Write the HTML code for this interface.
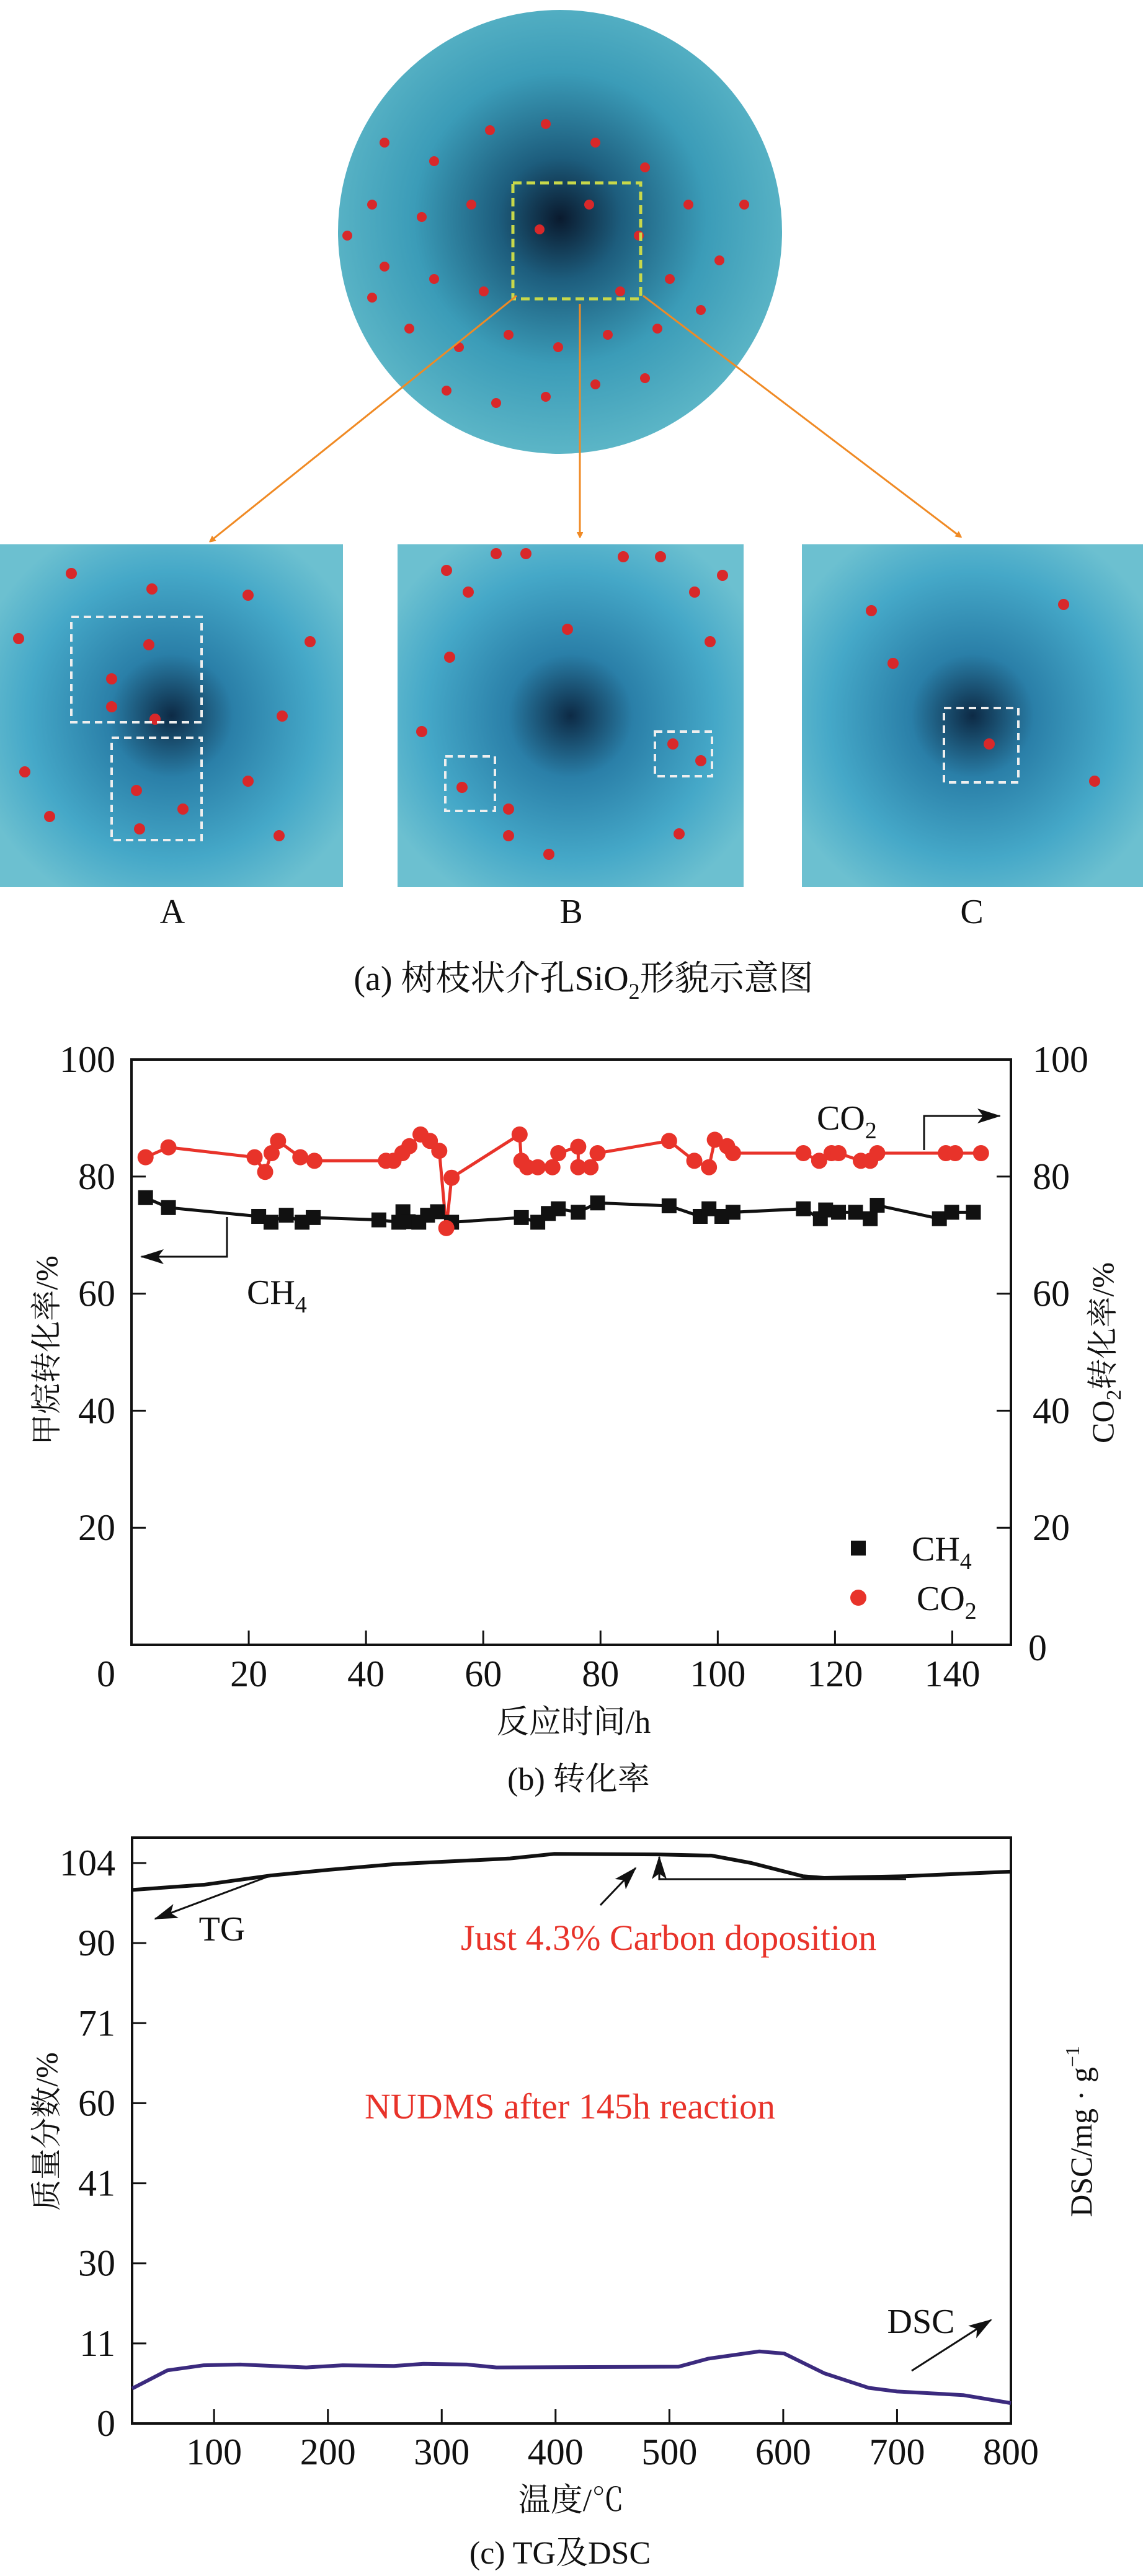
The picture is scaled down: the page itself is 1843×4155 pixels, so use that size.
<!DOCTYPE html>
<html><head><meta charset="utf-8">
<style>
html,body{margin:0;padding:0;background:#fff;}
svg{display:block;}
text{font-family:"Liberation Serif","Noto Serif CJK SC",serif;fill:#111;}
</style></head>
<body>
<svg id="fig" width="1843" height="4155" viewBox="0 0 1843 4155" xmlns="http://www.w3.org/2000/svg">
<defs>
<radialGradient id="sph" cx="0.5" cy="0.47" r="0.55">
<stop offset="0" stop-color="#0a1a2e"/><stop offset="0.25" stop-color="#1d5d7d"/><stop offset="0.6" stop-color="#3b9cb8"/><stop offset="1" stop-color="#5fb8c8"/>
</radialGradient>
<radialGradient id="pan" cx="0.5" cy="0.5" r="0.6">
<stop offset="0" stop-color="#0d2a45"/><stop offset="0.3" stop-color="#2a7fa8"/><stop offset="0.7" stop-color="#45a8c8"/><stop offset="1" stop-color="#6cc0d0"/>
</radialGradient>
<marker id="arrO" markerWidth="10" markerHeight="10" refX="8" refY="5" orient="auto" markerUnits="userSpaceOnUse"><path d="M0,0 L10,5 L0,10 L3,5 z" fill="#f08a24" transform="scale(2.2) translate(-5,-2.8)"/></marker>
<marker id="arrK" markerWidth="40" markerHeight="30" refX="36" refY="15" orient="auto" markerUnits="userSpaceOnUse"><path d="M0,3 L38,15 L0,27 L9,15 z" fill="#111"/></marker>
</defs>

<!-- (a) illustration -->
<g>
<circle cx="903" cy="374" r="358" fill="url(#sph)"/>
<g id="sphereDots"></g>
<rect x="827" y="295" width="206" height="187" fill="none" stroke="#c8d84a" stroke-width="5" stroke-dasharray="14,8"/>
<line x1="833" y1="477" x2="339" y2="873" stroke="#f08a24" stroke-width="3" marker-end="url(#arrO)"/>
<line x1="935" y1="490" x2="935" y2="866" stroke="#f08a24" stroke-width="3" marker-end="url(#arrO)"/>
<line x1="1037" y1="477" x2="1549" y2="866" stroke="#f08a24" stroke-width="3" marker-end="url(#arrO)"/>
<rect x="0" y="878" width="553" height="553" fill="url(#pan)"/>
<rect x="641" y="878" width="558" height="553" fill="url(#pan)"/>
<rect x="1293" y="878" width="550" height="553" fill="url(#pan)"/>
<g id="panelDots"></g>
<rect x="115" y="995" width="210" height="170" fill="none" stroke="#eee" stroke-width="4" stroke-dasharray="12,8"/>
<rect x="180" y="1190" width="145" height="165" fill="none" stroke="#eee" stroke-width="4" stroke-dasharray="12,8"/>
<rect x="718" y="1220" width="80" height="88" fill="none" stroke="#eee" stroke-width="4" stroke-dasharray="12,8"/>
<rect x="1056" y="1180" width="92" height="72" fill="none" stroke="#eee" stroke-width="4" stroke-dasharray="12,8"/>
<rect x="1522" y="1142" width="120" height="120" fill="none" stroke="#eee" stroke-width="4" stroke-dasharray="12,8"/>
<text x="278" y="1489" font-size="56" text-anchor="middle">A</text>
<text x="921" y="1489" font-size="56" text-anchor="middle">B</text>
<text x="1567" y="1489" font-size="56" text-anchor="middle">C</text>
<text x="941" y="1597" font-size="56" text-anchor="middle">(a)  树枝状介孔SiO<tspan font-size="36" dy="14">2</tspan><tspan dy="-14">形貌示意图</tspan></text>
</g>

<!-- (b) chart -->
<g id="chartB">
<rect x="212" y="1709" width="1418" height="944" fill="none" stroke="#111" stroke-width="4"/>
<text transform="translate(92,2178) rotate(-90)" font-size="50" text-anchor="middle">甲烷转化率/%</text>
<text transform="translate(1795,2182) rotate(-90)" font-size="50" text-anchor="middle">CO<tspan font-size="34" dy="12">2</tspan><tspan dy="-12">转化率/%</tspan></text>
<text x="925" y="2795" font-size="52" text-anchor="middle">反应时间/h</text>
<text x="933" y="2887" font-size="52" text-anchor="middle">(b) 转化率</text>
<text x="1317" y="1822" font-size="56">CO<tspan font-size="38" dy="14">2</tspan></text>
<polyline points="1490,1855 1490,1800 1612,1800" fill="none" stroke="#111" stroke-width="3" marker-end="url(#arrK)"/>
<polyline points="366,1963 366,2027 228,2027" fill="none" stroke="#111" stroke-width="3" marker-end="url(#arrK)"/>
<text x="398" y="2103" font-size="56">CH<tspan font-size="38" dy="14">4</tspan></text>
<rect x="1372" y="2485" width="24" height="24" fill="#111"/>
<text x="1470" y="2517" font-size="56">CH<tspan font-size="38" dy="14">4</tspan></text>
<circle cx="1384" cy="2577" r="13" fill="#e8332a"/>
<text x="1478" y="2597" font-size="56">CO<tspan font-size="38" dy="14">2</tspan></text>
</g>

<!-- (c) chart -->
<g id="chartC">
<rect x="213" y="2964" width="1417" height="945" fill="none" stroke="#111" stroke-width="4"/>
<text transform="translate(92,3438) rotate(-90)" font-size="50" text-anchor="middle">质量分数/%</text>
<text transform="translate(1760,3438) rotate(-90)" font-size="50" text-anchor="middle">DSC/mg · g<tspan font-size="32" dy="-20">−1</tspan></text>
<text x="921" y="4050" font-size="52" text-anchor="middle">温度/℃</text>
<text x="903" y="4135" font-size="52" text-anchor="middle">(c) TG及DSC</text>
<line x1="437" y1="3025" x2="250" y2="3095" stroke="#111" stroke-width="3" marker-end="url(#arrK)"/>
<text x="358" y="3130" font-size="56" text-anchor="middle">TG</text>
<polyline points="1461,3031 1063,3031 1063,2995" fill="none" stroke="#111" stroke-width="3" marker-end="url(#arrK)"/>
<line x1="968" y1="3073" x2="1025" y2="3013" stroke="#111" stroke-width="3" marker-end="url(#arrK)"/>
<text x="1078" y="3145" font-size="58" text-anchor="middle" style="fill:#e8332a">Just 4.3% Carbon doposition</text>
<text x="919" y="3417" font-size="58" text-anchor="middle" style="fill:#e8332a">NUDMS after 145h reaction</text>
<text x="1485" y="3763" font-size="56" text-anchor="middle">DSC</text>
<line x1="1470" y1="3824" x2="1598" y2="3742" stroke="#111" stroke-width="3" marker-end="url(#arrK)"/>
</g>
</svg>
<script>
// ---- chart (b) data ----
const timeCH4 = [2.4,6.3,21.7,23.8,26.4,29.1,31.0,42.2,45.6,46.3,47.2,49.0,50.5,52.2,54.6,66.5,69.3,71.1,72.8,76.2,79.5,91.7,97.0,98.5,100.7,102.6,114.6,117.5,118.4,120.6,123.5,126.0,127.2,137.8,139.9,143.6];
const valCH4 = [76.4,74.7,73.2,72.2,73.4,72.2,73.0,72.6,72.2,74.0,72.3,72.2,73.4,74.0,72.2,73.0,72.2,73.7,74.5,73.9,75.5,75.0,73.2,74.5,73.2,73.9,74.5,72.8,74.3,73.9,73.9,72.8,75.1,72.8,73.9,73.9];
const timeCO2 = [2.4,6.3,21.0,22.8,23.9,25.0,28.8,31.2,43.4,44.7,46.2,47.4,49.3,50.9,52.5,53.7,54.6,66.2,66.5,67.5,69.3,71.8,72.8,76.2,76.2,78.3,79.5,91.7,96.0,98.5,99.5,101.6,102.6,114.6,117.3,119.4,120.6,124.4,126.0,127.2,138.9,140.5,144.9];
const valCO2 = [83.3,85.0,83.3,80.8,84.0,86.1,83.3,82.7,82.7,82.7,84.0,85.2,87.2,86.1,84.4,71.2,79.8,87.2,82.7,81.6,81.6,81.6,84.0,85.1,81.6,81.6,84.0,86.1,82.7,81.6,86.3,85.2,84.0,84.0,82.7,84.0,84.0,82.7,82.7,84.0,84.0,84.0,84.0];
const xTicksB = [0,20,40,60,80,100,120,140];
const yTicksB = [20,40,60,80,100];

// ---- chart (c) data ----
const tgTemp = [28,91,149,200,258,360,399,489,537,572,617,636,707,800];
const tgVal = [99.3,100.2,101.8,102.8,103.8,104.8,105.6,105.5,105.3,104.0,101.7,101.4,101.7,102.5];
const dscTemp = [28,59,91,123,181,213,258,284,322,348,508,534,579,601,636,675,700,758,800];
const dscVal = [4.8,7.3,8.0,8.1,7.7,8.0,7.9,8.2,8.1,7.7,7.8,8.9,9.9,9.6,6.9,4.9,4.4,3.9,2.8];
const xTicksC = [100,200,300,400,500,600,700,800];
const yTicksC = [0,11,30,41,60,71,90,104];

const NS = 'http://www.w3.org/2000/svg';
function mk(tag, attrs, parent){ const e=document.createElementNS(NS,tag); for(const k in attrs) e.setAttribute(k,attrs[k]); parent.appendChild(e); return e; }

// axis functions b
const xB = t => 212 + t*(1418/150);
const yB = v => 2653 - v*(944/100);
const gB = document.getElementById('chartB');
xTicksB.forEach(t=>{
  if(t>0){ const tk=mk('line',{x1:xB(t),y1:2653,x2:xB(t),y2:2630,stroke:'#111','stroke-width':3},gB);
    }
  const lb=mk('text',{x:t===0?171:xB(t),y:2720,'font-size':60,'text-anchor':'middle'},gB);
  lb.textContent=t;
  
  
});
yTicksB.forEach(v=>{
  if(v<100){
    const a=mk('line',{x1:212,y1:yB(v),x2:235,y2:yB(v),stroke:'#111','stroke-width':3},gB);
     
    const b=mk('line',{x1:1630,y1:yB(v),x2:1607,y2:yB(v),stroke:'#111','stroke-width':3},gB);
     
  }
  const l=mk('text',{x:186,y:yB(v)+20,'font-size':60,'text-anchor':'end'},gB);
  l.textContent=v;
  
  
  const r=mk('text',{x:1665,y:yB(v)+20,'font-size':60},gB);
  r.textContent=v;
  
  
});
const r0=mk('text',{x:1673,y:2678,'font-size':60,'text-anchor':'middle'},gB);
r0.textContent='0';



const lineCH4=mk('polyline',{points:timeCH4.map((t,i)=>xB(t)+','+yB(valCH4[i])).join(' '),fill:'none',stroke:'#111','stroke-width':5},gB);


const lineCO2=mk('polyline',{points:timeCO2.map((t,i)=>xB(t)+','+yB(valCO2[i])).join(' '),fill:'none',stroke:'#e8332a','stroke-width':5},gB);


timeCH4.forEach((t,i)=>{
  const s=mk('rect',{x:xB(t)-12,y:yB(valCH4[i])-12,width:24,height:24,fill:'#111'},gB);
  
  
});
timeCO2.forEach((t,i)=>{
  const c=mk('circle',{cx:xB(t),cy:yB(valCO2[i]),r:13,fill:'#e8332a'},gB);
  
  
});

// axis functions c
const xC = T => 213 + (T-28)*(1417/772);
const tickStep = 904/7;
function yC(v){
  for(let i=0;i<yTicksC.length-1;i++){
    const a=yTicksC[i], b=yTicksC[i+1];
    if(v<=b || i===yTicksC.length-2){ return 3909 - (i + (v-a)/(b-a))*tickStep; }
  }
}
const gC = document.getElementById('chartC');
xTicksC.forEach(T=>{
  if(T<800){ const tk=mk('line',{x1:xC(T),y1:3909,x2:xC(T),y2:3886,stroke:'#111','stroke-width':3},gC);
    }
  const lb=mk('text',{x:xC(T),y:3975,'font-size':60,'text-anchor':'middle'},gC);
  lb.textContent=T;
  
  
});
yTicksC.forEach(v=>{
  if(v>0){ const tk=mk('line',{x1:213,y1:yC(v),x2:236,y2:yC(v),stroke:'#111','stroke-width':3},gC);
    }
  const lb=mk('text',{x:186,y:yC(v)+20,'font-size':60,'text-anchor':'end'},gC);
  lb.textContent=v;
  
  
});
const tgLine=mk('polyline',{points:tgTemp.map((T,i)=>xC(T)+','+yC(tgVal[i])).join(' '),fill:'none',stroke:'#111','stroke-width':6,'stroke-linejoin':'round'},gC);


const dscLine=mk('polyline',{points:dscTemp.map((T,i)=>xC(T)+','+yC(dscVal[i])).join(' '),fill:'none',stroke:'#3b2a7e','stroke-width':6,'stroke-linejoin':'round'},gC);



// decorative dots for illustration
const sd=document.getElementById('sphereDots');
const sphereDotPos=[[620,230],[700,260],[790,210],[880,200],[960,230],[1040,270],[600,330],[680,350],[760,330],[870,370],[950,330],[1030,380],[1110,330],[620,430],[700,450],[780,470],[1000,470],[1080,450],[1160,420],[660,530],[740,560],[820,540],[900,560],[980,540],[1060,530],[1130,500],[720,630],[800,650],[880,640],[960,620],[1040,610],[600,480],[560,380],[1200,330]];
sphereDotPos.forEach(p=>{ const c=mk('circle',{cx:p[0],cy:p[1],r:8,fill:'#d8282a'},sd);   });
const pd=document.getElementById('panelDots');
const panelDotPos=[[115,925],[245,950],[400,960],[30,1030],[180,1095],[240,1040],[500,1035],[180,1140],[250,1160],[455,1155],[40,1245],[220,1275],[295,1305],[400,1260],[80,1317],[450,1348],[225,1337],[720,920],[800,893],[848,893],[1005,898],[1065,898],[1165,928],[755,955],[1120,955],[725,1060],[1145,1035],[915,1015],[680,1180],[1085,1200],[1130,1227],[745,1270],[820,1305],[820,1348],[1095,1345],[885,1378],[1405,985],[1715,975],[1440,1070],[1765,1260],[1595,1200]];
panelDotPos.forEach(p=>{ const c=mk('circle',{cx:p[0],cy:p[1],r:9,fill:'#d8282a'},pd);   });
</script>
</body></html>
